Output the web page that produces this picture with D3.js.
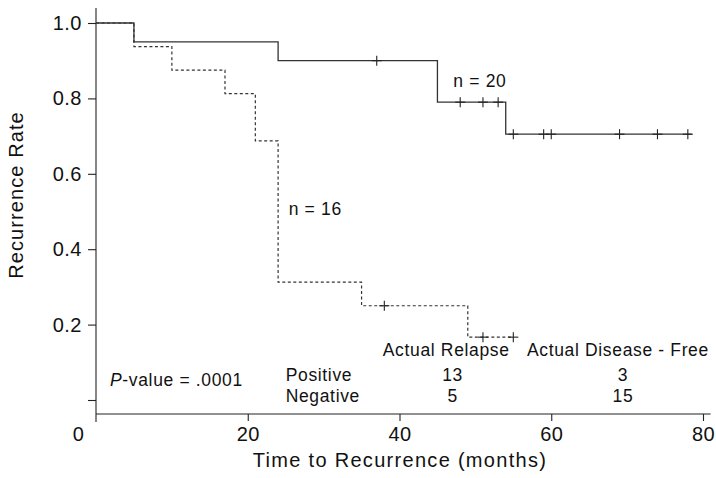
<!DOCTYPE html>
<html lang="en">
<head>
  <meta charset="UTF-8">
  <title>Recurrence Rate</title>
  <script src="https://d3js.org/d3.v7.min.js"></script>
  <style>
    body { margin: 0; background: #fff; }
    text { font-family: "Liberation Sans", Arial, Helvetica, sans-serif; fill: #111; }
  </style>
</head>
<body>
  <svg width="716" height="478"></svg>

  <script>
    // Group n = 20 (solid)
    const solidTimes = [0, 5, 24, 45, 54];
    const solidRates = [1.0, 0.95, 0.90, 0.79, 0.705];
    const solidEnd = 78.5;
    const solidCensored = [37, 48, 51, 53, 55, 59, 60, 69, 74, 78];

    // Group n = 16 (dashed)
    const dashTimes = [0, 5, 10, 17, 21, 24, 35, 49];
    const dashRates = [1.0, 0.9375, 0.875, 0.8125, 0.6875, 0.3125, 0.25, 0.1667];
    const dashEnd = 55;
    const dashCensored = [38, 51, 55];

    const xTicks = [0, 20, 40, 60, 80];
    const yTicks = [0, 0.2, 0.4, 0.6, 0.8, 1.0];

    // Table in lower right
    const tableCols = ["Actual Relapse", "Actual Disease - Free"];
    const tableRows = ["Positive", "Negative"];
    const tableValues = [[13, 3], [5, 15]];

    const svg = d3.select("svg");

    const x = d3.scaleLinear().domain([0, 80]).range([96, 703]);
    const y = d3.scaleLinear().domain([0, 1]).range([400, 23]);
    const xAxisY = y(0) + 14;

    // build step series
    function steps(times, rates, end) {
      const pts = times.map((t, i) => ({ t: t, r: rates[i] }));
      pts.push({ t: end, r: rates[rates.length - 1] });
      return pts;
    }
    function rateAt(times, rates, t) {
      let r = rates[0];
      times.forEach((tt, i) => { if (tt <= t) r = rates[i]; });
      return r;
    }

    const line = d3.line()
      .x(d => x(d.t))
      .y(d => y(d.r))
      .curve(d3.curveStepAfter);

    // Axes
    const yAxis = svg.append("g")
      .attr("transform", "translate(" + x(0) + ",0)")
      .call(d3.axisLeft(y).tickValues(yTicks).tickSize(8).tickPadding(6)
        .tickFormat(d => d === 0 ? "" : d3.format(".1f")(d)));
    yAxis.select(".domain").attr("d", "M0,8V" + (xAxisY + 8));

    const xAxis = svg.append("g")
      .attr("transform", "translate(0," + xAxisY + ")")
      .call(d3.axisBottom(x).tickValues(xTicks).tickSize(7).tickPadding(6));
    xAxis.select(".domain").attr("d", "M" + x(0) + ",0H" + x(81));
    xAxis.selectAll(".tick").filter(d => d === 0).select("line").remove();
    xAxis.selectAll(".tick").filter(d => d === 0).select("text").attr("dx", -18);

    svg.selectAll(".domain, .tick line").attr("stroke", "#222").attr("stroke-width", 1.1);
    svg.selectAll(".tick text")
      .style("font-family", "'Liberation Sans', Arial, sans-serif")
      .style("font-size", "20px")
      .style("letter-spacing", "0.5px")
      .attr("fill", "#111");

    // Curves
    svg.append("path")
      .datum(steps(solidTimes, solidRates, solidEnd))
      .attr("fill", "none")
      .attr("stroke", "#333")
      .attr("stroke-width", 1.3)
      .attr("d", line);

    svg.append("path")
      .datum(steps(dashTimes, dashRates, dashEnd))
      .attr("fill", "none")
      .attr("stroke", "#333")
      .attr("stroke-width", 1.2)
      .attr("stroke-dasharray", "3,2.5")
      .attr("d", line);

    // censor marks
    function censorMarks(times, rates, cens) {
      const g = svg.append("g").attr("stroke", "#222").attr("stroke-width", 1.1);
      cens.forEach(c => {
        const cx = x(c), cy = y(rateAt(times, rates, c));
        g.append("line").attr("x1", cx).attr("x2", cx).attr("y1", cy - 5).attr("y2", cy + 5);
        g.append("line").attr("x1", cx - 5).attr("x2", cx + 5).attr("y1", cy).attr("y2", cy);
      });
    }
    censorMarks(solidTimes, solidRates, solidCensored);
    censorMarks(dashTimes, dashRates, dashCensored);

    const annot = sel => sel.style("font-size", "17.5px").style("letter-spacing", "0.65px");

    // labels on curves
    svg.append("text").attr("x", x(47.1)).attr("y", y(0.831)).call(annot).text("n = 20");
    svg.append("text").attr("x", x(25.4)).attr("y", y(0.491)).call(annot).text("n = 16");

    // p-value
    const pv = svg.append("text").attr("x", x(1.85)).attr("y", y(0) - 14.5).call(annot);
    pv.append("tspan").style("font-style", "italic").text("P");
    pv.append("tspan").text("-value = .0001");

    // table
    const colStart = [37.8, 56.8];
    const colMid = [47.0, 69.45];
    tableCols.forEach((c, i) => {
      svg.append("text").attr("x", x(colStart[i])).attr("y", y(0) - 44).call(annot).text(c);
    });
    tableRows.forEach((r, j) => {
      const by = y(0) - 19.5 + j * 21;
      svg.append("text").attr("x", x(25.0)).attr("y", by).call(annot).text(r);
      tableValues[j].forEach((v, i) => {
        svg.append("text").attr("x", x(colMid[i])).attr("y", by)
          .attr("text-anchor", "middle").call(annot).text(v);
      });
    });

    // axis titles
    svg.append("text")
      .attr("x", 400).attr("y", 467)
      .attr("text-anchor", "middle")
      .style("font-size", "20px")
      .style("letter-spacing", "1.3px")
      .text("Time to Recurrence (months)");

    svg.append("text")
      .attr("transform", "translate(23,195) rotate(-90)")
      .attr("text-anchor", "middle")
      .style("font-size", "20px")
      .style("letter-spacing", "1.1px")
      .text("Recurrence Rate");
  </script>
</body>
</html>
